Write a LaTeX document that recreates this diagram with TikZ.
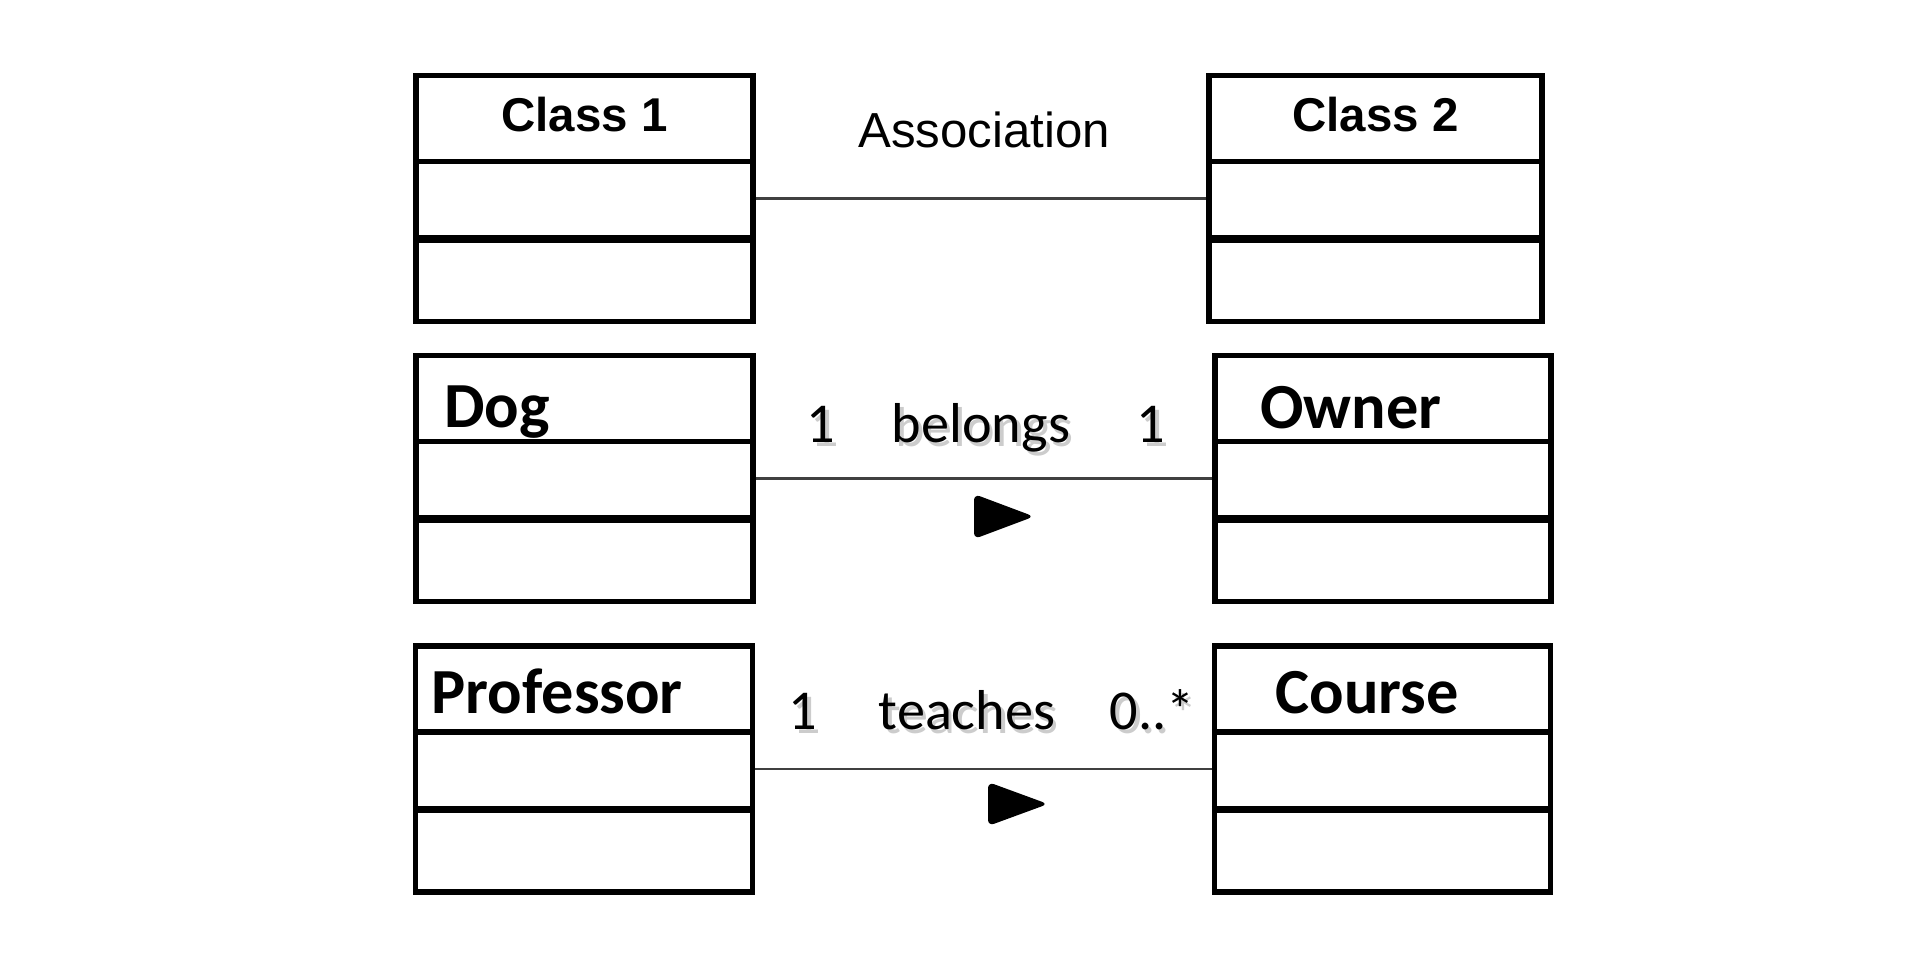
\documentclass[tikz,border=0pt]{standalone}
\usepackage{fontspec}
\setmainfont{Carlito}
\newfontfamily\arialfont{Liberation Sans}

\newcommand{\Shadowed}[1]{\makebox[0pt][l]{\hspace{1pt}\raisebox{-1.3pt}{\textcolor{black!20}{#1}}}#1}

\begin{document}
\begin{tikzpicture}[
      Class/.style = {draw, rectangle, line width = 1.5pt, minimum width = 3.37cm, minimum height = 2.46cm, inner sep = 0pt},
      Divider/.style = {line width = 1.5pt},
      ThickDivider/.style = {line width = 2.1pt},
      Line/.style = {draw, black!75, line width = 0.6pt},
      Title/.style = {anchor = base, inner sep = 0pt, font = \arialfont\bfseries\fontsize{13.5}{16}\selectfont},
      Assoc/.style = {anchor = base, inner sep = 0pt, font = \arialfont\fontsize{14}{17}\selectfont},
      Name/.style = {anchor = base west, inner sep = 0pt, font = \bfseries\fontsize{18.3}{22}\selectfont},
      Role/.style = {anchor = base, inner sep = 0pt, font = \fontsize{16}{19}\selectfont},
      Direction/.style = {fill, rounded corners = 1.8pt}
    ]
    \useasboundingbox (0,0) rectangle (19.24,-9.78);

    \node at (5.845,-1.985) [Class](c1){};
    \node at (13.755,-1.985) [Class, minimum width = 3.33cm](c2){};
    \node at (5.845,-4.785) [Class](dog){};
    \node at (13.83,-4.785) [Class, minimum width = 3.36cm](owner){};
    \node at (5.84,-7.69) [Class](prof){};
    \node at (13.825,-7.69) [Class, minimum width = 3.36cm](course){};

    \draw[Divider] ([yshift=-8.85mm]c1.north west) -- ([yshift=-8.85mm]c1.north east);
    \draw[ThickDivider] ([yshift=-16.6mm]c1.north west) -- ([yshift=-16.6mm]c1.north east);
    \draw[Divider] ([yshift=-8.85mm]c2.north west) -- ([yshift=-8.85mm]c2.north east);
    \draw[ThickDivider] ([yshift=-16.6mm]c2.north west) -- ([yshift=-16.6mm]c2.north east);
    \draw[Divider] ([yshift=-8.85mm]dog.north west) -- ([yshift=-8.85mm]dog.north east);
    \draw[ThickDivider] ([yshift=-16.6mm]dog.north west) -- ([yshift=-16.6mm]dog.north east);
    \draw[Divider] ([yshift=-8.85mm]owner.north west) -- ([yshift=-8.85mm]owner.north east);
    \draw[ThickDivider] ([yshift=-16.6mm]owner.north west) -- ([yshift=-16.6mm]owner.north east);
    \draw[Divider] ([yshift=-8.85mm]prof.north west) -- ([yshift=-8.85mm]prof.north east);
    \draw[ThickDivider] ([yshift=-16.6mm]prof.north west) -- ([yshift=-16.6mm]prof.north east);
    \draw[Divider] ([yshift=-8.85mm]course.north west) -- ([yshift=-8.85mm]course.north east);
    \draw[ThickDivider] ([yshift=-16.6mm]course.north west) -- ([yshift=-16.6mm]course.north east);

    \node at ([yshift=-5.9mm]c1.north) [Title](c1title){Class 1};
    \node at ([yshift=-5.9mm]c2.north) [Title](c2title){Class 2};
    \node at ([xshift=3.0mm,yshift=-7.5mm]dog.north west) [Name](dogname){Dog};
    \node at ([xshift=4.7mm,yshift=-7.6mm]owner.north west) [Name](ownername){Owner};
    \node at ([xshift=1.8mm,yshift=-7.0mm]prof.north west) [Name](profname){Professor};
    \node at ([xshift=6.3mm,yshift=-7.0mm]course.north west) [Name](coursename){Course};

    \path [Line] (c1) -- (c2);
    \path [Line] (dog) -- (owner);
    \path [Line] (prof) -- (course);

    \node at (9.84,-1.47) [Assoc](assoc){Association};

    \node at (8.21,-4.42) [Role](dogmult){\Shadowed{1}};
    \node at (9.81,-4.42) [Role](belongs){\Shadowed{belongs}};
    \node at (11.51,-4.42) [Role](ownermult){\Shadowed{1}};
    \node at (8.03,-7.29) [Role](profmult){\Shadowed{1}};
    \node at (9.67,-7.29) [Role](teaches){\Shadowed{teaches}};
    \node at (11.52,-7.29) [Role](coursemult){\Shadowed{0..*}};

    \fill[Direction] (9.74,-4.94) -- (10.34,-5.165) -- (9.74,-5.39) -- cycle;
    \fill[Direction] (9.88,-7.82) -- (10.48,-8.04) -- (9.88,-8.26) -- cycle;
  \end{tikzpicture}
\end{document}
